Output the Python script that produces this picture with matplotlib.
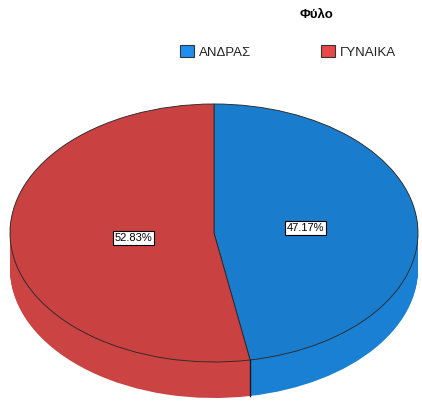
import matplotlib
matplotlib.use("Agg")
import matplotlib.pyplot as plt
import numpy as np
from matplotlib.patches import Patch

plt.rcParams['font.family'] = ['Liberation Sans', 'DejaVu Sans']

title = "Φύλο"
categories = ["ΑΝΔΡΑΣ", "ΓΥΝΑΙΚΑ"]
percentages = [47.17, 52.83]
top_colors = ["#1a7ccc", "#c94141"]
side_colors = ["#1a80d4", "#cc4343"]
legend_colors = ["#1e8ef0", "#e84848"]

W, H = 422, 401
fig = plt.figure(figsize=(W / 100, H / 100), dpi=100)
ax = fig.add_axes([0, 0, 1, 1])

# geometry (pixels)
cx, cy = 214, 401 - 233
rx, ry = 204, 129
depth = 36 / ry

# side (extrusion) layers
n_layers = 40
for k in range(n_layers, 0, -1):
    dy = depth * k / n_layers
    ax.pie(percentages, colors=side_colors, startangle=90, counterclock=False,
           radius=1, center=(0, -dy), wedgeprops=dict(edgecolor='none', linewidth=0))

# divider line on the front side
ang = np.deg2rad(90 - 360 * percentages[0] / sum(percentages))
ax.plot([np.cos(ang), np.cos(ang)], [np.sin(ang), np.sin(ang) - depth],
        color="#1a1a1a", lw=1.0, zorder=5)

# top face
wedges, texts, autotexts = ax.pie(
    percentages, colors=top_colors, startangle=90, counterclock=False,
    radius=1, center=(0, 0), autopct='%1.2f%%', pctdistance=0.45,
    wedgeprops=dict(edgecolor='#2a2a2a', linewidth=0.65),
    textprops=dict(fontsize=8, color='black'))
for t in autotexts:
    t.set_bbox(dict(boxstyle='square,pad=0.18', facecolor='white', edgecolor='black', linewidth=0.8))
    t.set_zorder(10)
# nudge the second label toward the centre, as in the reference
x1, y1 = autotexts[1].get_position()
autotexts[1].set_position((x1 * 0.88, y1))

ax.set_aspect('auto')
ax.set_xlim(-cx / rx, (W - cx) / rx)
ax.set_ylim(-cy / ry, (H - cy) / ry)
ax.axis('off')

fig.text(316 / W, 1 - 15 / H, title, ha='center', va='center', fontsize=9.5, fontweight='bold')

handles = [Patch(facecolor=c, edgecolor='#333333', linewidth=0.8) for c in legend_colors]
leg = fig.legend(handles, categories, loc='center', bbox_to_anchor=(288 / W, 1 - 52 / H), ncol=2,
                 frameon=False, fontsize=9.5, handlelength=1.05, handleheight=1.05,
                 handletextpad=0.35, columnspacing=5.3, borderaxespad=0, borderpad=0)
for t in leg.get_texts():
    t.set_color('#222222')

fig.savefig("out.png", dpi=100)
